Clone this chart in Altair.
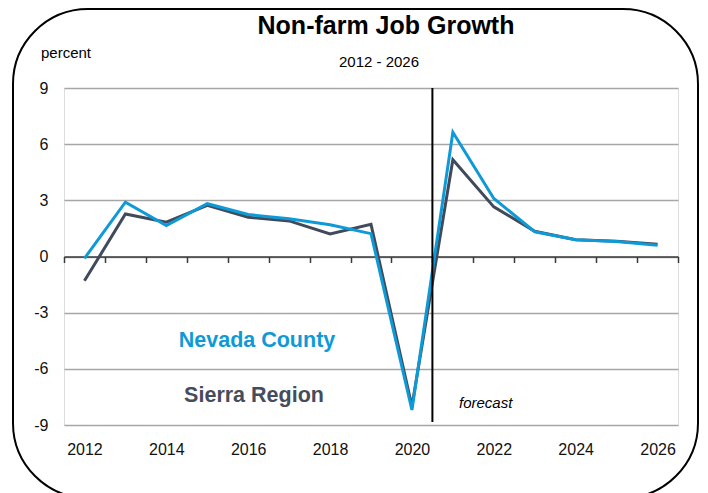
import altair as alt
import pandas as pd

years = [str(y) for y in range(2012, 2027)]
nevada = [-0.1, 2.9, 1.65, 2.82, 2.24, 2.02, 1.7, 1.22, -8.2, 6.64, 3.1, 1.32, 0.9, 0.8, 0.6]
sierra = [-1.3, 2.27, 1.83, 2.73, 2.1, 1.9, 1.2, 1.72, -8.0, 5.17, 2.65, 1.35, 0.9, 0.82, 0.66]
y_ticks = [-9, -6, -3, 0, 3, 6, 9]
forecast_start = ["2021"]

BLUE = "#0e9ad7"
GRAY = "#414a5a"
FONT = "Liberation Sans"

df = pd.DataFrame({"year": years, "Nevada County": nevada, "Sierra Region": sierra})

W, H = 614, 337

xscale = alt.Scale(type="band", domain=years, paddingInner=0, paddingOuter=0)
yscale = alt.Scale(domain=[-9, 9], nice=False)

x_axis = alt.Axis(
    title=None,
    orient="bottom",
    offset=-168.5,
    domainColor="#3a3a3a",
    domainWidth=1.5,
    ticks=True,
    tickBand="extent",
    tickColor="#3a3a3a",
    tickWidth=1.5,
    tickSize=6,
    labelPadding=179,
    labelAngle=0,
    labelAlign="center",
    labelBaseline="top",
    labelFont=FONT,
    labelFontSize=16,
    labelColor="#111111",
    labelExpr="toNumber(datum.value) % 2 == 0 ? datum.label : ''",
    grid=False,
)


def xenc(bp):
    return alt.X("year:O", scale=xscale, bandPosition=bp, axis=x_axis)


y_axis = alt.Axis(
    title=None,
    values=y_ticks,
    grid=True,
    gridColor="#a6a6a6",
    gridWidth=1.3,
    domain=False,
    ticks=False,
    labelPadding=16,
    labelFont=FONT,
    labelFontSize=16,
    labelColor="#111111",
    labelExpr="'' + datum.value",
)

base = alt.Chart(df)
sierra_line = base.mark_line(color=GRAY, strokeWidth=3).encode(
    x=xenc(0.5), y=alt.Y("Sierra Region:Q", scale=yscale, axis=y_axis)
)
nevada_line = base.mark_line(color=BLUE, strokeWidth=3).encode(
    x=xenc(0.5), y=alt.Y("Nevada County:Q", scale=yscale, axis=y_axis)
)

rule = alt.Chart(pd.DataFrame({"year": forecast_start})).mark_rule(
    color="black", strokeWidth=2
).encode(
    x=xenc(0),
    y=alt.value(0),
    y2=alt.value(334),
)


def label(text, x, y, size, color="black", weight="normal", style="normal",
          align="center", font=FONT, baseline="alphabetic"):
    return alt.Chart(pd.DataFrame({"t": [text]})).mark_text(
        fontSize=size, color=color, fontWeight=weight, fontStyle=style,
        align=align, font=font, baseline=baseline,
    ).encode(text="t:N", x=alt.value(x), y=alt.value(y))


title = label("Non-farm Job Growth", 322, -54, 25, weight="bold")
subtitle = label("2012 - 2026", 315, -21, 15)
percent = label("percent", -23, -30, 15, align="left")
nev_lbl = label("Nevada County", 193, 259, 21.5, color=BLUE, weight="bold")
sie_lbl = label("Sierra Region", 190, 314, 21.5, color="#454c5c", weight="bold")
fc_lbl = label("forecast", 395, 320, 15, style="italic", align="left")

frame = alt.Chart(pd.DataFrame({"a": [0]})).mark_rect(
    fillOpacity=0, stroke="black", strokeWidth=2, cornerRadius=75
).encode(
    x=alt.value(-51), x2=alt.value(634), y=alt.value(-79), y2=alt.value(410)
)

chart = alt.layer(
    sierra_line, nevada_line, rule, title, subtitle, percent, nev_lbl, sie_lbl, fc_lbl, frame
).properties(
    width=W, height=H,
    autosize=alt.AutoSizeParams(type="none"),
    padding={"left": 56, "top": 80, "right": 22, "bottom": 68},
).configure_view(stroke=None).configure(background="white")

chart.save("out.html", embed_options={"renderer": "svg", "actions": False})
